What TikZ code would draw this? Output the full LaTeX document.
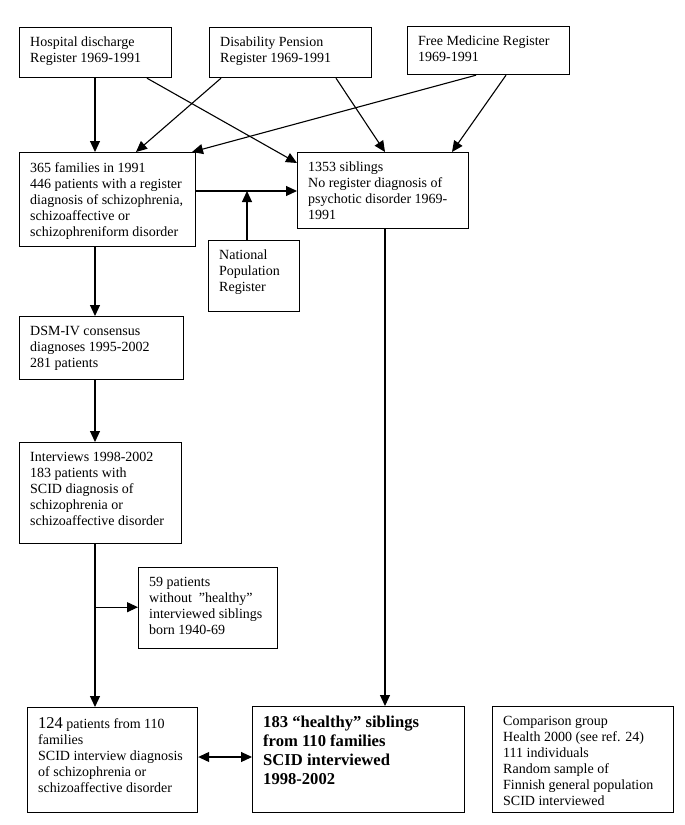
\documentclass[tikz,border=0pt]{standalone}
\usepackage{fontspec}
\setmainfont{Liberation Serif}
\usetikzlibrary{arrows.meta,calc}
\begin{document}
\begin{tikzpicture}[x=1pt,y=-1pt,
  boxstyle/.style={draw, line width=1.2pt, inner sep=0pt, anchor=north west},
  txt/.style={anchor=north west, inner sep=0pt, align=left, font=\fontsize{14}{16}\selectfont},
  arr/.style={line width=1.1pt, -{Triangle[length=11pt,width=10pt]}},
  dbl/.style={line width=1.1pt, {Triangle[length=11pt,width=10pt]}-{Triangle[length=11pt,width=10pt]}}]
\useasboundingbox (0,0) rectangle (685,825);
\newcommand{\mybox}[6]{%
  \node[boxstyle, minimum width={#4-#2}, minimum height={#5-#3}] (#1) at (#2,#3) {};
  \node[txt] (#1t) at ($(#1.north west)+(11,10)$) {#6};}
\mybox{hosp}{19}{27}{171}{77}{Hospital discharge\\Register 1969-1991}
\mybox{dis}{209}{27}{371}{77}{Disability Pension\\Register 1969-1991}
\mybox{free}{407}{26}{569}{74}{Free Medicine Register\\1969-1991}
\mybox{fam}{19}{152}{195}{246}{365 families in 1991\\446 patients with a register\\diagnosis of schizophrenia,\\schizoaffective or\\schizophreniform disorder}
\mybox{sib}{297}{152}{468}{228}{1353 siblings\\No register diagnosis of\\psychotic disorder 1969-\\1991}
\mybox{npr}{208}{240}{299}{311}{National\\Population\\Register}
\mybox{dsm}{19}{316}{183}{379}{DSM-IV consensus\\diagnoses 1995-2002\\281 patients}
\mybox{intv}{19}{442}{181}{543}{Interviews 1998-2002\\183 patients with\\SCID diagnosis of\\schizophrenia or\\schizoaffective disorder}
\mybox{pfn}{138}{567}{277}{648}{59 patients\\without \ ”healthy”\\interviewed siblings\\born 1940-69}
\mybox{pot}{27}{707}{197}{812}{{\fontsize{16.5}{16}\selectfont 124} patients from 110\\families\\SCID interview diagnosis\\of schizophrenia or\\schizoaffective disorder}
\node[boxstyle, minimum width=212, minimum height=106] (hoe) at (252,706) {};
\node[txt, font=\fontsize{16.6}{19}\selectfont\bfseries] (hoet) at ($(hoe.north west)+(11,10)$) {183 “healthy” siblings\\from 110 families\\SCID interviewed\\1998-2002};
\mybox{comp}{492}{706}{673}{812}{Comparison group\\Health 2000 (see ref. 24)\\111 individuals\\Random sample of\\Finnish general population\\SCID interviewed}
% connectors
\draw[arr] ([xshift=76pt]hosp.south west) -- ([xshift=76pt]fam.north west);
\draw[arr] ([xshift=128pt]hosp.south west) -- ([yshift=-11pt]sib.north west);
\draw[arr] ([xshift=12pt]dis.south west) -- ([xshift=117pt]fam.north west);
\draw[arr] ([xshift=127pt]dis.south west) -- ([xshift=88pt]sib.north west);
\draw[arr] ([xshift=69pt]free.south west) -- ([xshift=173pt]fam.north west);
\draw[arr] ([xshift=99pt]free.south west) -- ([xshift=155pt]sib.north west);
\coordinate (fj) at ([yshift=-39pt]fam.north east);
\draw[arr] (fj) -- (fj -| sib.west);
\coordinate (npb) at ([xshift=39pt]npr.north west);
\coordinate (npj) at (npb |- fj);
\draw[arr] (npb) -- (npj);
\draw[arr] ([xshift=76pt]fam.south west) -- ([xshift=76pt]dsm.north west);
\draw[arr] ([xshift=76pt]dsm.south west) -- ([xshift=76pt]intv.north west);
\draw[arr] ([xshift=76pt]intv.south west) -- ([xshift=68pt]pot.north west);
\coordinate (br) at ([xshift=76pt,yshift=-63pt]intv.south west);
\draw[arr] (br) -- (br -| pfn.west);
\draw[arr] ([xshift=88pt]sib.south west) -- ([xshift=133pt]hoe.north west);
\draw[dbl] ([yshift=-50pt]pot.north east) -- ([yshift=-51pt]hoe.north west);
\end{tikzpicture}
\end{document}
